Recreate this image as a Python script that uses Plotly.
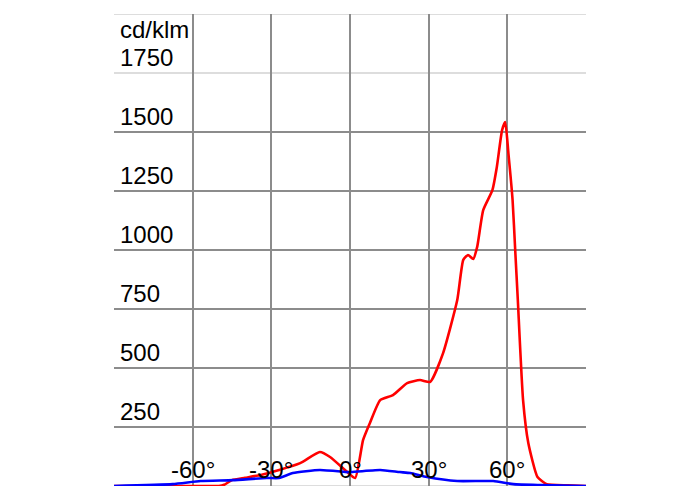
import plotly.graph_objects as go

# C0-C180 plane (red)
red_angle = [-90, -60, -50, -48, -45, -40, -34, -27, -19, -11.5, -7.6, -1, 2, 5, 7.6, 11.5,
             16.4, 21.8, 26.7, 30.6, 35.5, 40.9, 43.2, 45, 47, 48.5, 50.8, 54.3, 56, 58,
             59.2, 60.4, 62, 63, 64, 66, 68, 71.5, 75, 83, 90]
red_value = [0, 0, 0, 5, 25, 35, 47, 68, 97, 144, 123, 59, 34, 195, 267, 364,
             385, 436, 449, 441, 563, 788, 958, 979, 962, 1013, 1169, 1254, 1352, 1508,
             1542, 1411, 1212, 1000, 788, 364, 182, 38, 8, 3, 0]

# C90-C270 plane (blue)
blue_angle = [-90, -67.6, -57, -44.7, -31.7, -27, -21.8, -11.5, -1, 0, 11.5, 19, 23,
              29.4, 40.9, 54.6, 62.3, 72.6, 90]
blue_value = [0, 8, 21, 25, 34, 34, 55, 68, 59, 59, 68, 59, 55,
              38, 21, 21, 8, 4, 0]

x_ticks = [-60, -30, 0, 30, 60]
x_tick_labels = ["-60°", "-30°", "0°", "30°", "60°"]
y_ticks = [250, 500, 750, 1000, 1250, 1500, 1750]
y_tick_labels = ["250", "500", "750", "1000", "1250", "1500", "1750"]
y_unit = "cd/klm"
y_max = 2000

FONT = "Liberation Sans, Arial, sans-serif"
DARK = "#8c8c8c"
LIGHT = "#d2d2d2"

fig = go.Figure()
fig.add_trace(go.Scatter(x=red_angle, y=red_value, mode="lines",
                         line=dict(color="#ff0000", width=2.6, shape="spline", smoothing=0.5),
                         hoverinfo="skip"))
fig.add_trace(go.Scatter(x=blue_angle, y=blue_value, mode="lines",
                         line=dict(color="#0000ff", width=2.6, shape="spline", smoothing=0.5),
                         hoverinfo="skip"))

shapes = []
for v in [0, 1750, y_max]:
    shapes.append(dict(type="line", xref="paper", yref="y", x0=0, x1=1, y0=v, y1=v,
                       line=dict(color=LIGHT, width=1.5), layer="below"))

annotations = []
for v, t in zip(y_ticks, y_tick_labels):
    annotations.append(dict(x=0, xref="paper", y=v, yref="y", text=t, showarrow=False,
                            xanchor="left", yanchor="bottom", xshift=4, yshift=0,
                            font=dict(family=FONT, size=24, color="#000")))
annotations.append(dict(x=0, xref="paper", y=y_max, yref="y", text=y_unit, showarrow=False,
                        xanchor="left", yanchor="top", xshift=4, yshift=0,
                        font=dict(family=FONT, size=24, color="#000")))
for v, t in zip(x_ticks, x_tick_labels):
    annotations.append(dict(x=v, xref="x", y=0, yref="y", text=t, showarrow=False,
                            xanchor="center", yanchor="bottom", yshift=1,
                            font=dict(family=FONT, size=24, color="#000")))

fig.update_layout(
    width=700, height=500,
    margin=dict(l=106, r=122, t=6, b=22),
    paper_bgcolor="white", plot_bgcolor="white",
    showlegend=False,
    shapes=shapes, annotations=annotations,
    xaxis=dict(range=[-90, 90], tickvals=x_ticks, showticklabels=False, showgrid=True,
               gridcolor=DARK, gridwidth=1.5, zeroline=False, showline=False, ticks=""),
    yaxis=dict(range=[0, y_max], tickvals=y_ticks[:-1], showticklabels=False, showgrid=True,
               gridcolor=DARK, gridwidth=1.5, zeroline=False, showline=False, ticks=""),
)

fig.write_html("out.html")
